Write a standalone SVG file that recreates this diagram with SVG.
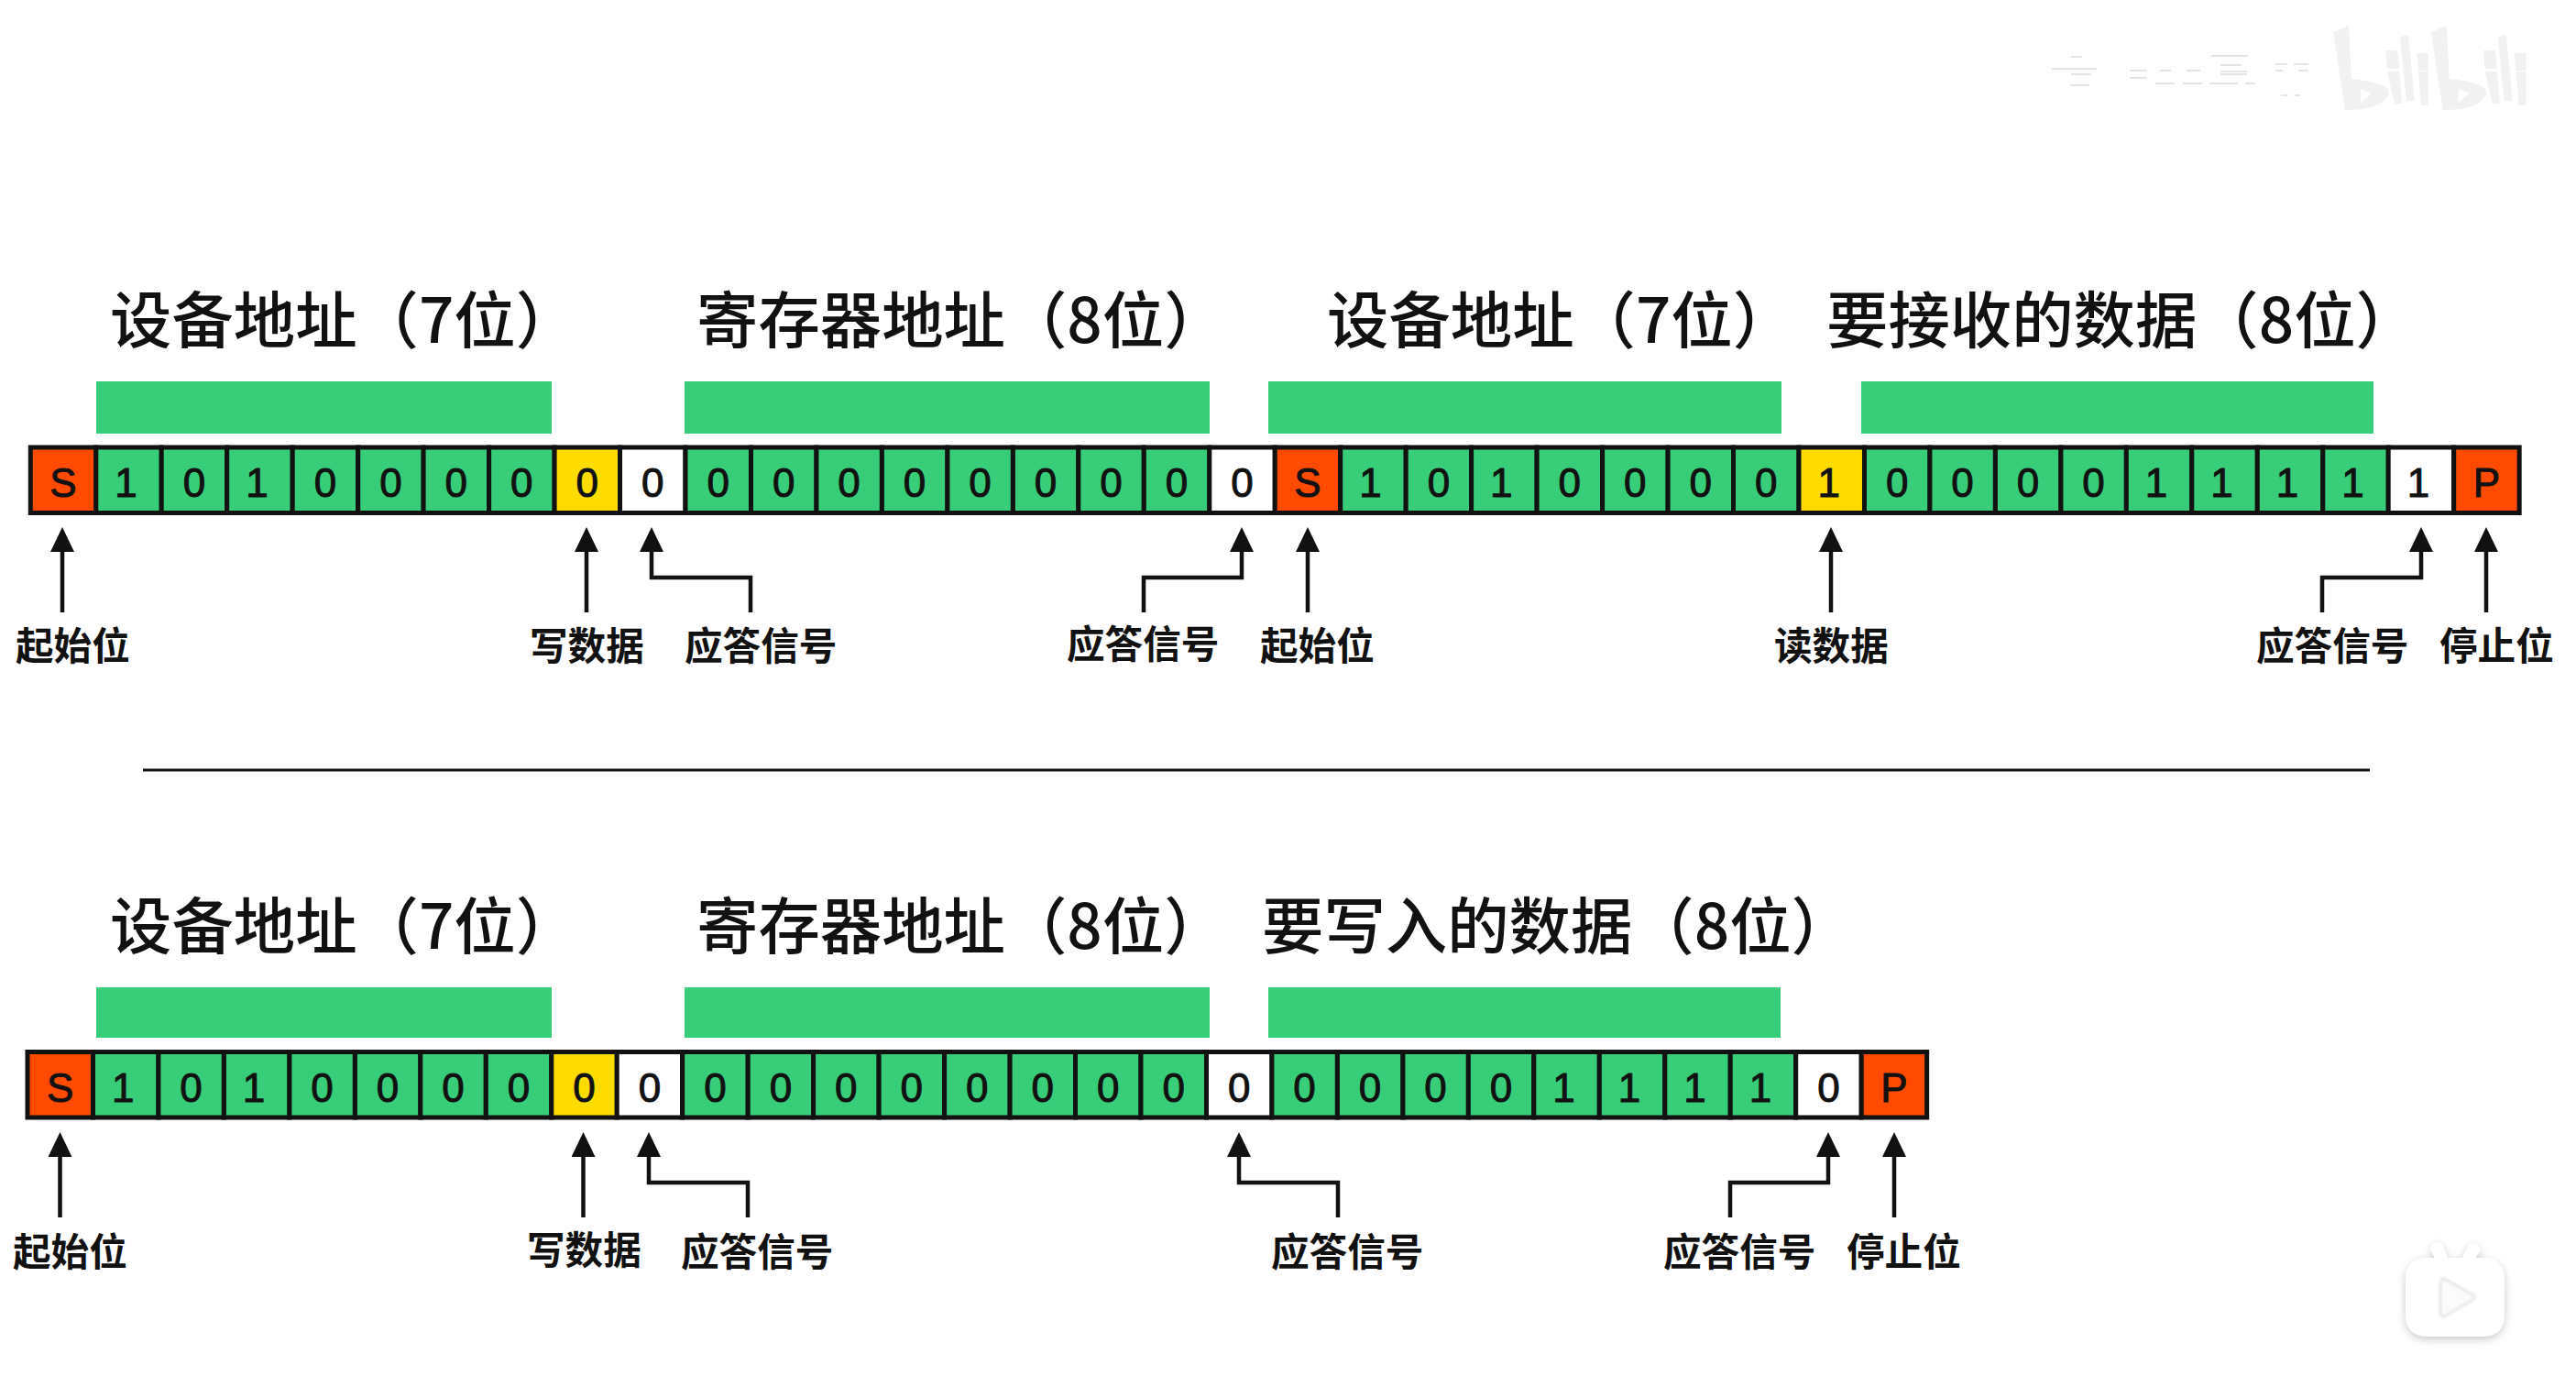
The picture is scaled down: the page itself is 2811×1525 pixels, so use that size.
<svg xmlns="http://www.w3.org/2000/svg" width="2811" height="1525" viewBox="0 0 2811 1525">
<style>
.g{fill:#38ce79}.s{fill:#ff4a00}.y{fill:#ffdc00}.w{fill:#fff}
.c{stroke:#111;stroke-width:5;width:71.47px;height:71.5px}
.d{font-family:"Liberation Sans",Arial,sans-serif;font-size:44px;fill:#111;stroke:#111;stroke-width:1;text-anchor:middle}
.o{transform:translateX(-3px)}
.t{font-family:"Noto Sans CJK SC",sans-serif;font-size:67.4px;font-weight:500;fill:#111}
.l{font-family:"Noto Sans CJK SC",sans-serif;font-size:41.6px;font-weight:700;fill:#111}
.b{fill:#38ce79}
.a{fill:none;stroke:#111;stroke-width:4.5;marker-end:url(#h)}
.logo{fill:#f1f1f1}
</style>
<defs>
<marker id="h" markerUnits="userSpaceOnUse" markerWidth="27" markerHeight="26" viewBox="0 0 27 26" refX="0" refY="13" orient="auto"><path d="M0 0L27 13L0 26z" fill="#111"/></marker>
<filter id="sh" x="-30%" y="-30%" width="160%" height="160%"><feDropShadow dx="0" dy="3" stdDeviation="5" flood-color="#000" flood-opacity=".22"/></filter>
<filter id="bl" x="-20%" y="-20%" width="140%" height="140%"><feGaussianBlur stdDeviation="1.5"/></filter>
<g id="logo"><path fill-rule="evenodd" d="M2546 35L2563 28L2566 86Q2608 90 2607 102Q2600 120 2559 120ZM2576 97L2588 102L2576 112Z"/><path d="M2605 78L2618 78L2621 113L2613 113ZM2603 55L2616 55L2618 75L2605 75ZM2619 40L2628 38L2635 110L2626 110ZM2637 58L2650 58L2650 77L2639 77ZM2639 78L2650 78L2650 115L2642 115Z"/></g>
</defs>
<rect width="2811" height="1525" fill="#fff"/>

<g id="watermark">
<use href="#logo" class="logo"/><use href="#logo" class="logo" x="106.7"/>
<path fill="none" stroke="#e4e4e4" stroke-width="2" d="M2239 75H2288M2260 62H2272M2260 81H2282M2259 93H2280M2324 77H2343M2324 85H2343M2423 71H2446M2423 78H2452M2423 81H2452M2411 91H2442M2450 91H2461M2483 70H2496M2503 70H2519M2483 77H2491M2508 77H2519M2489 104H2496M2503 104H2510M2357 77H2369M2386 77H2401M2352 91H2373M2382 91H2403M2413 61H2453"/>
</g>

<g id="titles">
<text class="t" x="120" y="374">设备地址（7位）</text>
<text class="t" x="760" y="374">寄存器地址（8位）</text>
<text class="t" x="1448" y="374">设备地址（7位）</text>
<text class="t" x="1993" y="374">要接收的数据（8位）</text>
<text class="t" x="120" y="1035">设备地址（7位）</text>
<text class="t" x="760" y="1035">寄存器地址（8位）</text>
<text class="t" x="1377" y="1035">要写入的数据（8位）</text>
</g>

<g id="field-bars">
<rect class="b" x="105" y="416" width="497" height="57"/>
<rect class="b" x="747" y="416" width="573" height="57"/>
<rect class="b" x="1384" y="416" width="560" height="57"/>
<rect class="b" x="2031" y="416" width="559" height="57"/>
<rect class="b" x="105" y="1077" width="497" height="55"/>
<rect class="b" x="747" y="1077" width="573" height="55"/>
<rect class="b" x="1384" y="1077" width="559" height="55"/>
</g>

<g id="r1c0" transform="translate(33.3,488)"><rect class="c s"/><text class="d" x="35.7" y="54">S</text></g>
<g id="r1c1" transform="translate(104.8,488)"><rect class="c g"/><text class="d o" x="35.7" y="54">1</text></g>
<g id="r1c2" transform="translate(176.2,488)"><rect class="c g"/><text class="d" x="35.7" y="54">0</text></g>
<g id="r1c3" transform="translate(247.7,488)"><rect class="c g"/><text class="d o" x="35.7" y="54">1</text></g>
<g id="r1c4" transform="translate(319.2,488)"><rect class="c g"/><text class="d" x="35.7" y="54">0</text></g>
<g id="r1c5" transform="translate(390.7,488)"><rect class="c g"/><text class="d" x="35.7" y="54">0</text></g>
<g id="r1c6" transform="translate(462.1,488)"><rect class="c g"/><text class="d" x="35.7" y="54">0</text></g>
<g id="r1c7" transform="translate(533.6,488)"><rect class="c g"/><text class="d" x="35.7" y="54">0</text></g>
<g id="r1c8" transform="translate(605.1,488)"><rect class="c y"/><text class="d" x="35.7" y="54">0</text></g>
<g id="r1c9" transform="translate(676.5,488)"><rect class="c w"/><text class="d" x="35.7" y="54">0</text></g>
<g id="r1c10" transform="translate(748,488)"><rect class="c g"/><text class="d" x="35.7" y="54">0</text></g>
<g id="r1c11" transform="translate(819.5,488)"><rect class="c g"/><text class="d" x="35.7" y="54">0</text></g>
<g id="r1c12" transform="translate(890.9,488)"><rect class="c g"/><text class="d" x="35.7" y="54">0</text></g>
<g id="r1c13" transform="translate(962.4,488)"><rect class="c g"/><text class="d" x="35.7" y="54">0</text></g>
<g id="r1c14" transform="translate(1033.9,488)"><rect class="c g"/><text class="d" x="35.7" y="54">0</text></g>
<g id="r1c15" transform="translate(1105.4,488)"><rect class="c g"/><text class="d" x="35.7" y="54">0</text></g>
<g id="r1c16" transform="translate(1176.8,488)"><rect class="c g"/><text class="d" x="35.7" y="54">0</text></g>
<g id="r1c17" transform="translate(1248.3,488)"><rect class="c g"/><text class="d" x="35.7" y="54">0</text></g>
<g id="r1c18" transform="translate(1319.8,488)"><rect class="c w"/><text class="d" x="35.7" y="54">0</text></g>
<g id="r1c19" transform="translate(1391.2,488)"><rect class="c s"/><text class="d" x="35.7" y="54">S</text></g>
<g id="r1c20" transform="translate(1462.7,488)"><rect class="c g"/><text class="d o" x="35.7" y="54">1</text></g>
<g id="r1c21" transform="translate(1534.2,488)"><rect class="c g"/><text class="d" x="35.7" y="54">0</text></g>
<g id="r1c22" transform="translate(1605.6,488)"><rect class="c g"/><text class="d o" x="35.7" y="54">1</text></g>
<g id="r1c23" transform="translate(1677.1,488)"><rect class="c g"/><text class="d" x="35.7" y="54">0</text></g>
<g id="r1c24" transform="translate(1748.6,488)"><rect class="c g"/><text class="d" x="35.7" y="54">0</text></g>
<g id="r1c25" transform="translate(1820.1,488)"><rect class="c g"/><text class="d" x="35.7" y="54">0</text></g>
<g id="r1c26" transform="translate(1891.5,488)"><rect class="c g"/><text class="d" x="35.7" y="54">0</text></g>
<g id="r1c27" transform="translate(1963,488)"><rect class="c y"/><text class="d o" x="35.7" y="54">1</text></g>
<g id="r1c28" transform="translate(2034.5,488)"><rect class="c g"/><text class="d" x="35.7" y="54">0</text></g>
<g id="r1c29" transform="translate(2105.9,488)"><rect class="c g"/><text class="d" x="35.7" y="54">0</text></g>
<g id="r1c30" transform="translate(2177.4,488)"><rect class="c g"/><text class="d" x="35.7" y="54">0</text></g>
<g id="r1c31" transform="translate(2248.9,488)"><rect class="c g"/><text class="d" x="35.7" y="54">0</text></g>
<g id="r1c32" transform="translate(2320.3,488)"><rect class="c g"/><text class="d o" x="35.7" y="54">1</text></g>
<g id="r1c33" transform="translate(2391.8,488)"><rect class="c g"/><text class="d o" x="35.7" y="54">1</text></g>
<g id="r1c34" transform="translate(2463.3,488)"><rect class="c g"/><text class="d o" x="35.7" y="54">1</text></g>
<g id="r1c35" transform="translate(2534.8,488)"><rect class="c g"/><text class="d o" x="35.7" y="54">1</text></g>
<g id="r1c36" transform="translate(2606.2,488)"><rect class="c w"/><text class="d o" x="35.7" y="54">1</text></g>
<g id="r1c37" transform="translate(2677.7,488)"><rect class="c s"/><text class="d" x="35.7" y="54">P</text></g>

<g id="r2c0" transform="translate(30,1147.5)"><rect class="c s"/><text class="d" x="35.7" y="54">S</text></g>
<g id="r2c1" transform="translate(101.5,1147.5)"><rect class="c g"/><text class="d o" x="35.7" y="54">1</text></g>
<g id="r2c2" transform="translate(172.9,1147.5)"><rect class="c g"/><text class="d" x="35.7" y="54">0</text></g>
<g id="r2c3" transform="translate(244.4,1147.5)"><rect class="c g"/><text class="d o" x="35.7" y="54">1</text></g>
<g id="r2c4" transform="translate(315.9,1147.5)"><rect class="c g"/><text class="d" x="35.7" y="54">0</text></g>
<g id="r2c5" transform="translate(387.4,1147.5)"><rect class="c g"/><text class="d" x="35.7" y="54">0</text></g>
<g id="r2c6" transform="translate(458.8,1147.5)"><rect class="c g"/><text class="d" x="35.7" y="54">0</text></g>
<g id="r2c7" transform="translate(530.3,1147.5)"><rect class="c g"/><text class="d" x="35.7" y="54">0</text></g>
<g id="r2c8" transform="translate(601.8,1147.5)"><rect class="c y"/><text class="d" x="35.7" y="54">0</text></g>
<g id="r2c9" transform="translate(673.2,1147.5)"><rect class="c w"/><text class="d" x="35.7" y="54">0</text></g>
<g id="r2c10" transform="translate(744.7,1147.5)"><rect class="c g"/><text class="d" x="35.7" y="54">0</text></g>
<g id="r2c11" transform="translate(816.2,1147.5)"><rect class="c g"/><text class="d" x="35.7" y="54">0</text></g>
<g id="r2c12" transform="translate(887.6,1147.5)"><rect class="c g"/><text class="d" x="35.7" y="54">0</text></g>
<g id="r2c13" transform="translate(959.1,1147.5)"><rect class="c g"/><text class="d" x="35.7" y="54">0</text></g>
<g id="r2c14" transform="translate(1030.6,1147.5)"><rect class="c g"/><text class="d" x="35.7" y="54">0</text></g>
<g id="r2c15" transform="translate(1102.1,1147.5)"><rect class="c g"/><text class="d" x="35.7" y="54">0</text></g>
<g id="r2c16" transform="translate(1173.5,1147.5)"><rect class="c g"/><text class="d" x="35.7" y="54">0</text></g>
<g id="r2c17" transform="translate(1245,1147.5)"><rect class="c g"/><text class="d" x="35.7" y="54">0</text></g>
<g id="r2c18" transform="translate(1316.5,1147.5)"><rect class="c w"/><text class="d" x="35.7" y="54">0</text></g>
<g id="r2c19" transform="translate(1387.9,1147.5)"><rect class="c g"/><text class="d" x="35.7" y="54">0</text></g>
<g id="r2c20" transform="translate(1459.4,1147.5)"><rect class="c g"/><text class="d" x="35.7" y="54">0</text></g>
<g id="r2c21" transform="translate(1530.9,1147.5)"><rect class="c g"/><text class="d" x="35.7" y="54">0</text></g>
<g id="r2c22" transform="translate(1602.3,1147.5)"><rect class="c g"/><text class="d" x="35.7" y="54">0</text></g>
<g id="r2c23" transform="translate(1673.8,1147.5)"><rect class="c g"/><text class="d o" x="35.7" y="54">1</text></g>
<g id="r2c24" transform="translate(1745.3,1147.5)"><rect class="c g"/><text class="d o" x="35.7" y="54">1</text></g>
<g id="r2c25" transform="translate(1816.8,1147.5)"><rect class="c g"/><text class="d o" x="35.7" y="54">1</text></g>
<g id="r2c26" transform="translate(1888.2,1147.5)"><rect class="c g"/><text class="d o" x="35.7" y="54">1</text></g>
<g id="r2c27" transform="translate(1959.7,1147.5)"><rect class="c w"/><text class="d" x="35.7" y="54">0</text></g>
<g id="r2c28" transform="translate(2031.2,1147.5)"><rect class="c s"/><text class="d" x="35.7" y="54">P</text></g>

<g id="connectors">
<path class="a" d="M68 668V602"/>
<path class="a" d="M640 668V602"/>
<path class="a" d="M819 668V630H711V602"/>
<path class="a" d="M1248 668V630H1355V602"/>
<path class="a" d="M1427 668V602"/>
<path class="a" d="M1998 668V602"/>
<path class="a" d="M2534 668V630H2642V602"/>
<path class="a" d="M2713 668V602"/>
<path class="a" d="M65.5 1328V1262"/>
<path class="a" d="M636.5 1328V1262"/>
<path class="a" d="M816 1328V1290H708V1262"/>
<path class="a" d="M1460 1328V1290H1352V1262"/>
<path class="a" d="M1888 1328V1290H1995V1262"/>
<path class="a" d="M2067 1328V1262"/>
</g>

<g id="labels">
<text class="l" x="17" y="720">起始位</text>
<text class="l" x="578" y="720">写数据</text>
<text class="l" x="747" y="720">应答信号</text>
<text class="l" x="1164" y="718">应答信号</text>
<text class="l" x="1375" y="720">起始位</text>
<text class="l" x="1936" y="720">读数据</text>
<text class="l" x="2462" y="720">应答信号</text>
<text class="l" x="2662" y="720">停止位</text>
<text class="l" x="14" y="1381">起始位</text>
<text class="l" x="575" y="1379">写数据</text>
<text class="l" x="743" y="1381">应答信号</text>
<text class="l" x="1387" y="1381">应答信号</text>
<text class="l" x="1815" y="1381">应答信号</text>
<text class="l" x="2015" y="1381">停止位</text>
</g>

<line id="divider" x1="156" y1="840" x2="2586" y2="840" stroke="#111" stroke-width="3"/>

<g id="play-icon">
<g filter="url(#sh)">
<path fill="#fff" d="M2653 1365a7.500 7.500 0 0 1 12 -8L2671 1372H2687L2694 1358a7.500 7.500 0 0 1 12 7L2701 1372H2708Q2733 1372 2733 1397V1433Q2733 1458 2708 1458H2650Q2625 1458 2625 1433V1397Q2625 1372 2650 1372H2657Z"/>
</g>
<path d="M2663 1399Q2663 1393 2669 1396L2698 1412Q2702 1415 2698 1418L2669 1435Q2663 1438 2663 1432Z" fill="#fbfbfb" stroke="#dcdcdc" stroke-width="2" filter="url(#bl)"/>
</g>
</svg>
